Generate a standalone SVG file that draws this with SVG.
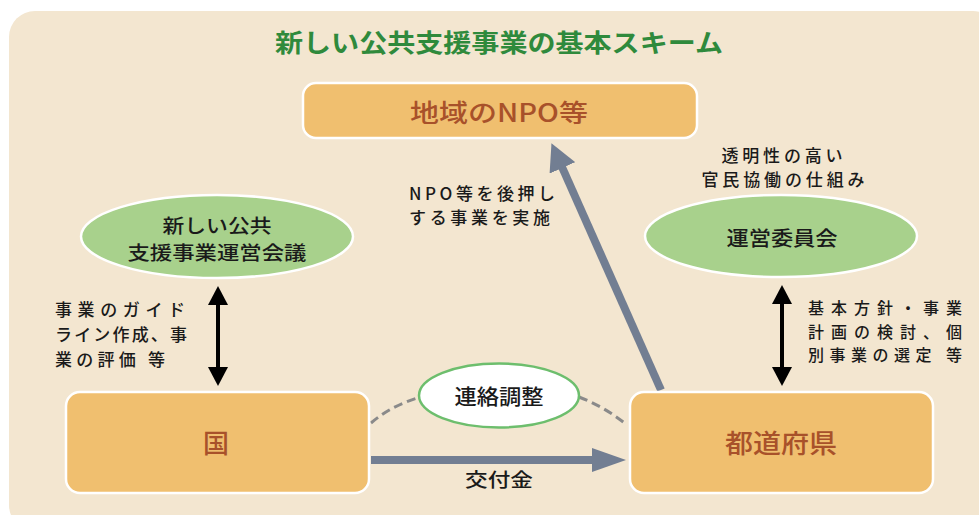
<svg xmlns="http://www.w3.org/2000/svg" width="979" height="515" viewBox="0 0 979 515">
<style>
.t{font-family:"Noto Sans CJK JP","Noto Sans",sans-serif;fill:#1a1a1a;font-weight:500}
.box{fill:#F0BF6F;stroke:#ffffff;stroke-width:2.5}
.ell{fill:#A8D18C;stroke:#ffffff;stroke-width:2.5}
.bt{font-family:"Noto Sans CJK JP","Noto Sans",sans-serif;fill:#A8512A;font-weight:500}
.lbl{font-size:17px}
.lbr{font-size:16px}
</style>
<defs>
<marker id="blk" markerUnits="userSpaceOnUse" markerWidth="20" markerHeight="20" refX="1" refY="10" orient="auto-start-reverse" viewBox="0 0 20 20">
<path d="M0,0 L19,10 L0,20 z" fill="#000"/>
</marker>
<marker id="gry1" markerUnits="userSpaceOnUse" markerWidth="28" markerHeight="28" refX="1" refY="14" orient="auto" viewBox="0 0 28 28">
<path d="M0,0 L27,14 L0,28 z" fill="#727E92"/>
</marker>
<marker id="gry2" markerUnits="userSpaceOnUse" markerWidth="35" markerHeight="24" refX="1" refY="12" orient="auto" viewBox="0 0 35 24">
<path d="M0,0 L34,12 L0,24 z" fill="#727E92"/>
</marker>
</defs>
<rect x="9" y="11" width="990" height="520" rx="26" fill="#F3E6D0"/>
<text x="499" y="52" text-anchor="middle" font-family="Noto Sans CJK JP, Noto Sans, sans-serif" font-size="25" font-weight="bold" fill="#2F8A3C" textLength="448" lengthAdjust="spacingAndGlyphs">新しい公共支援事業の基本スキーム</text>

<g id="connectors">
<line x1="661" y1="390" x2="562" y2="167" stroke="#727E92" stroke-width="8" marker-end="url(#gry1)"/>
<line x1="371" y1="460" x2="593" y2="460" stroke="#727E92" stroke-width="8" marker-end="url(#gry2)"/>
<line x1="218" y1="304" x2="218" y2="368" stroke="#000" stroke-width="4" marker-start="url(#blk)" marker-end="url(#blk)"/>
<line x1="782" y1="303" x2="782" y2="368" stroke="#000" stroke-width="4" marker-start="url(#blk)" marker-end="url(#blk)"/>
<path d="M371,423 Q392,405 421,397" fill="none" stroke="#8A8A8A" stroke-width="3" stroke-dasharray="9,5"/>
<path d="M579,397 Q605,407 627,425" fill="none" stroke="#8A8A8A" stroke-width="3" stroke-dasharray="9,5"/>
</g>

<g id="npo">
<rect class="box" x="303" y="83" width="394" height="55" rx="13"/>
<text class="bt" x="499" y="122" text-anchor="middle" font-size="25" textLength="178" lengthAdjust="spacingAndGlyphs">地域のNPO等</text>
</g>

<g id="council">
<ellipse class="ell" cx="217" cy="236.5" rx="136" ry="41.5"/>
<text class="t" x="217" y="233" text-anchor="middle" font-size="19" textLength="109" lengthAdjust="spacingAndGlyphs">新しい公共</text>
<text class="t" x="217" y="260" text-anchor="middle" font-size="19" textLength="179" lengthAdjust="spacingAndGlyphs">支援事業運営会議</text>
</g>

<g id="committee">
<ellipse class="ell" cx="781" cy="236" rx="136" ry="41"/>
<text class="t" x="782" y="246" text-anchor="middle" font-size="20" textLength="111" lengthAdjust="spacingAndGlyphs">運営委員会</text>
</g>

<g id="kuni">
<rect class="box" x="66" y="392" width="303" height="101" rx="14"/>
<text class="bt" x="216" y="453" text-anchor="middle" font-size="26">国</text>
</g>

<g id="pref">
<rect class="box" x="630" y="392" width="303" height="101" rx="14"/>
<text class="bt" x="781" y="453" text-anchor="middle" font-size="26" textLength="112" lengthAdjust="spacingAndGlyphs">都道府県</text>
</g>

<g id="renraku">
<ellipse cx="499" cy="395.5" rx="80" ry="32" fill="#ffffff" stroke="#6DBE6D" stroke-width="2.5"/>
<text class="t" x="499" y="404" text-anchor="middle" font-size="21" textLength="89" lengthAdjust="spacingAndGlyphs">連絡調整</text>
</g>

<g id="labels">
<text class="t lbl" x="55" y="316" textLength="130" lengthAdjust="spacing">事業のガイド</text>
<text class="t lbl" x="55" y="341" textLength="132" lengthAdjust="spacing">ライン作成、事</text>
<text class="t lbl" x="55" y="366" textLength="110" lengthAdjust="spacing">業の評価 等</text>
<text class="t lbr" x="808" y="314" textLength="154" lengthAdjust="spacing">基本方針・事業</text>
<text class="t lbr" x="808" y="337.5" textLength="154" lengthAdjust="spacing">計画の検討、個</text>
<text class="t lbr" x="808" y="361" textLength="154" lengthAdjust="spacing">別事業の選定 等</text>
<text class="t" x="782" y="162" text-anchor="middle" font-size="17" textLength="121" lengthAdjust="spacing">透明性の高い</text>
<text class="t" x="783" y="186" text-anchor="middle" font-size="17" textLength="163" lengthAdjust="spacing">官民協働の仕組み</text>
<text class="t" x="409" y="200" font-size="17" textLength="146" lengthAdjust="spacing">NPO等を後押し</text>
<text class="t" x="409" y="224" font-size="17" textLength="141" lengthAdjust="spacing">する事業を実施</text>
<text class="t" x="499" y="487" text-anchor="middle" font-size="19" textLength="68" lengthAdjust="spacingAndGlyphs">交付金</text>
</g>
</svg>
